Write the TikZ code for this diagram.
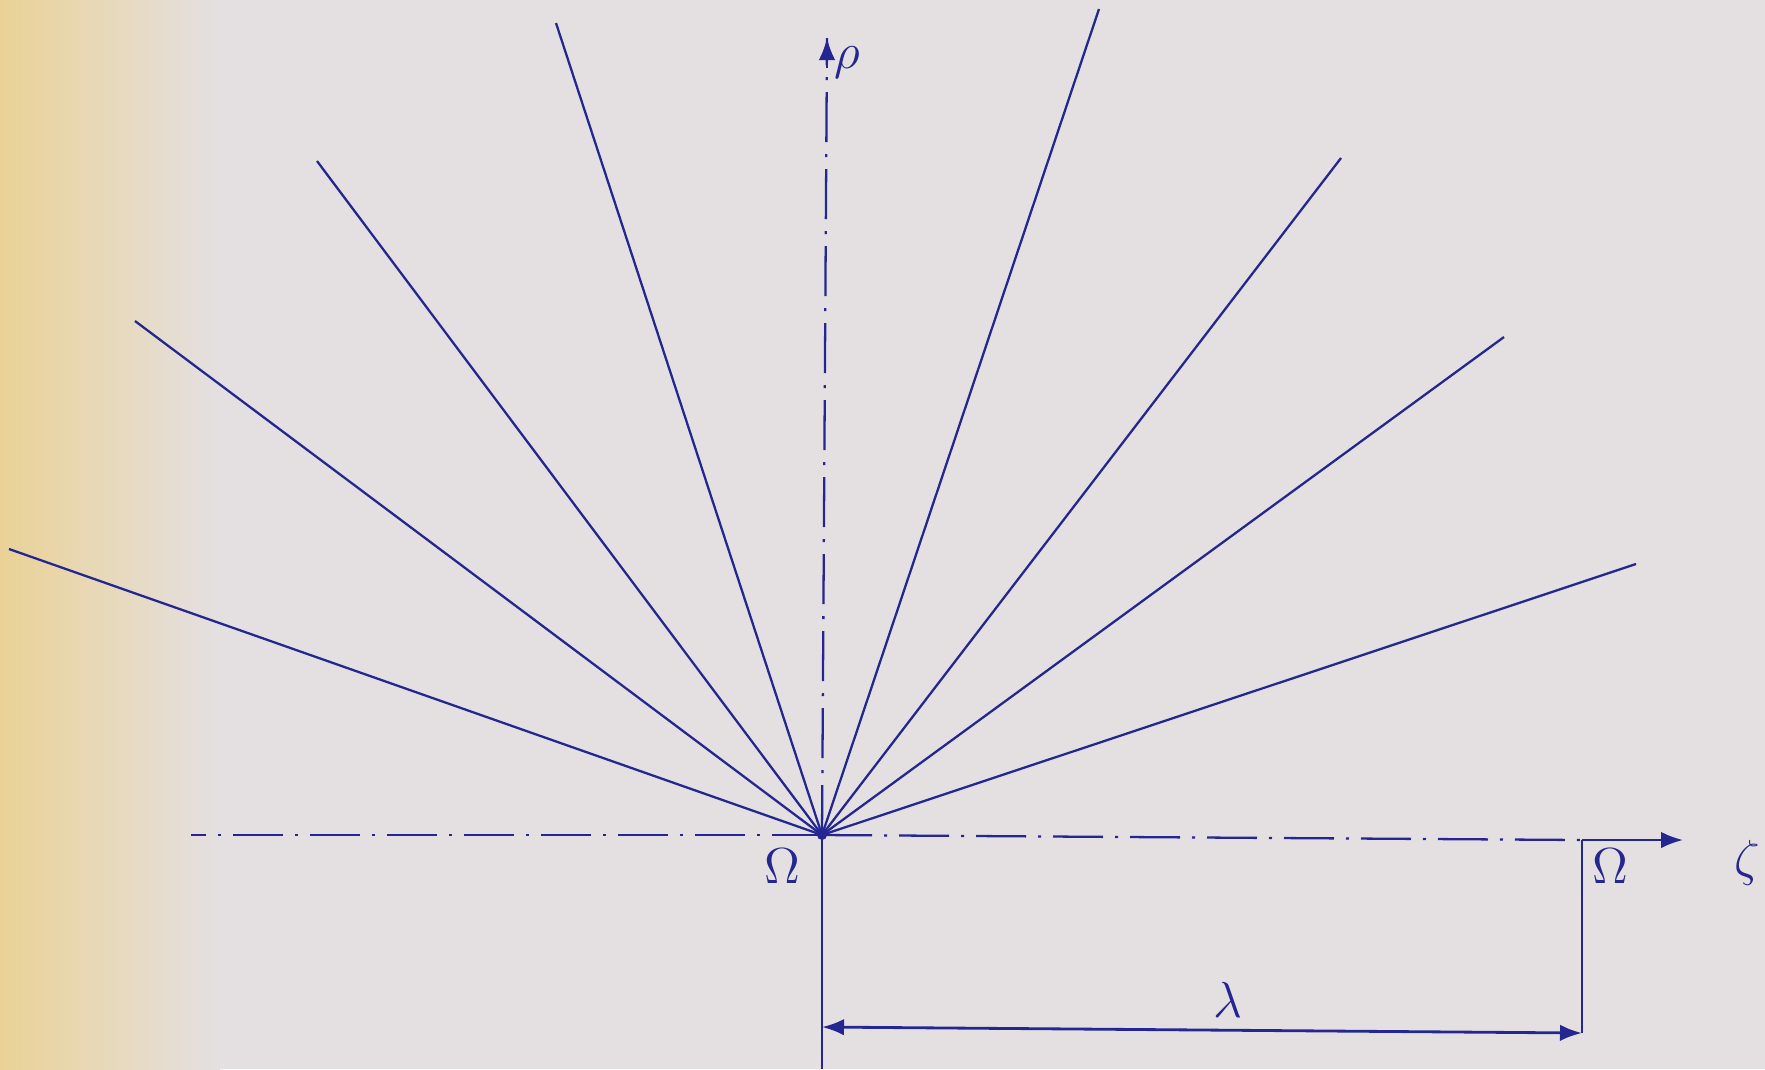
\documentclass[tikz,border=0pt]{standalone}
\usepackage{tikz}
\usetikzlibrary{arrows.meta,positioning,calc}
\definecolor{ink}{RGB}{36,38,145}
\definecolor{paper}{RGB}{228,224,226}
\definecolor{aged}{RGB}{234,210,150}
\tikzset{ray/.style={draw=ink,line width=0.65pt},axisline/.style={draw=ink,line width=0.65pt,dash pattern=on 5mm off 1.2mm on 0.3mm off 1.2mm},solidline/.style={draw=ink,line width=0.65pt},dimline/.style={{Latex[length=2.2mm]}-{Latex[length=2.2mm]},draw=ink,line width=0.8pt},lbl/.style={text=ink,inner sep=1pt}}

\begin{document}
\begin{tikzpicture}[x=0.1mm,y=-0.1mm]
\useasboundingbox (0,0) rectangle (1765,1069);
\fill[paper] (0,0) rectangle (1765,1069);
\shade[left color=aged,right color=paper] (0,0) rectangle (220,1069);
% centre and axes
\coordinate (O) at (822,835);
\coordinate (top) at (827,38);
\coordinate (bot) at (822,1069);
\coordinate (left) at (191,835);
\coordinate (right) at (1683,840);
\coordinate (lamR) at (1582,1033);
\coordinate (corner) at (1582,840);
\coordinate (lamL) at (822,1027);
% rays
\coordinate (r1) at (9,549);
\coordinate (r2) at (135,321);
\coordinate (r3) at (317,161);
\coordinate (r4) at (556,23);
\coordinate (r5) at (1099,9);
\coordinate (r6) at (1341,158);
\coordinate (r7) at (1504,337);
\coordinate (r8) at (1636,564);
\draw[ray] (O)--(r1);
\draw[ray] (O)--(r2);
\draw[ray] (O)--(r3);
\draw[ray] (O)--(r4);
\draw[ray] (O)--(r5);
\draw[ray] (O)--(r6);
\draw[ray] (O)--(r7);
\draw[ray] (O)--(r8);
\fill[ink] (O) circle (5);
\draw[axisline] (O)--(top);
\draw[solidline,-{Latex[length=2.2mm]}] ($(top)+(0,30)$)--(top);
\draw[solidline] (O)--(bot);
\draw[axisline] (O)--(left);
\draw[axisline] (O)--(corner);
\draw[solidline,-{Latex[length=2.2mm]}] (corner)--(right);
\draw[solidline] (corner)--(lamR);
\draw[dimline] (lamL)--(lamR);
% labels
\node[lbl,font=\Large] (rho) at (847,63) {$\rho$};
\node[lbl,font=\Large] (zeta) at (1747,863) {$\zeta$};
\node[lbl,font=\Large] (om1) at (782,866) {$\Omega$};
\node[lbl,font=\Large] (om2) at (1610,866) {$\Omega$};
\node[lbl,font=\Large,anchor=south] (lam) at (1228,1022) {$\lambda$};
\end{tikzpicture}
\end{document}
